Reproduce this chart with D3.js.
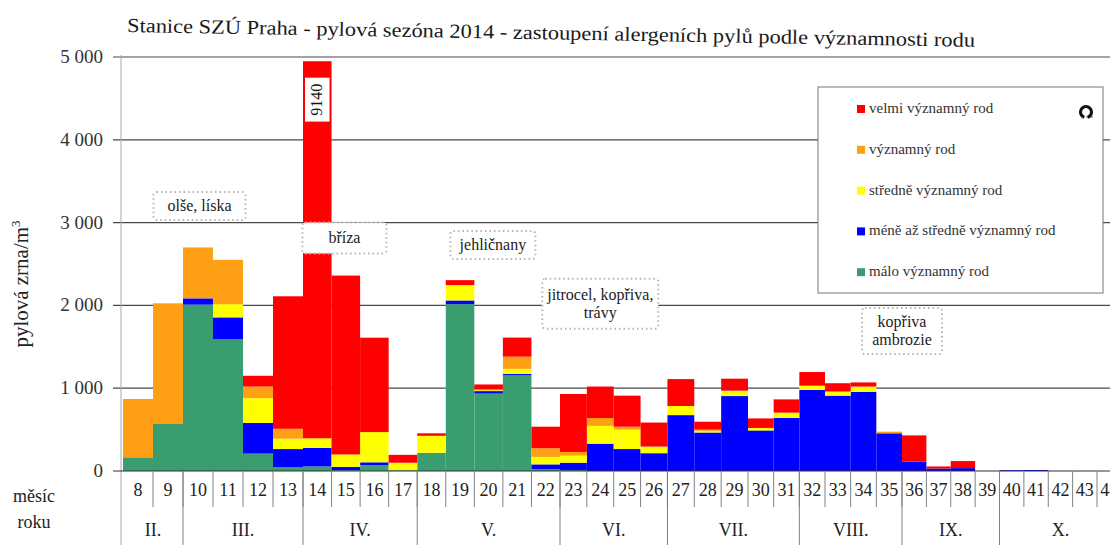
<!DOCTYPE html>
<html>
<head>
<meta charset="utf-8">
<script src="https://cdn.jsdelivr.net/npm/d3@7"></script>
<style>
  body { margin: 0; background: #fff; }
  svg { display: block; }
  svg text { font-family: "Liberation Serif", "DejaVu Serif", serif; }
</style>
</head>
<body>
<svg id="chart" width="1110" height="545" font-family="Liberation Serif, serif"></svg>
<script>
// week numbers 8..44
const weeks = [8, 9, 10, 11, 12, 13, 14, 15, 16, 17, 18, 19, 20, 21, 22, 23, 24, 25, 26,
  27, 28, 29, 30, 31, 32, 33, 34, 35, 36, 37, 38, 39, 40, 41, 42, 43, 44];

// pollen grains / m3 per significance class
const maloVyznamny = [165, 575, 2010, 1590, 210, 45, 55, 10, 70, 10, 220, 2015, 935, 1160, 20, 10, 0, 0, 0,
  0, 0, 0, 0, 0, 0, 0, 0, 0, 0, 0, 0, 0, 0, 0, 0, 0, 0];
const meneAzStredne = [0, 0, 75, 265, 370, 220, 225, 40, 35, 0, 0, 45, 30, 12, 60, 90, 330, 265, 215,
  675, 465, 905, 490, 640, 980, 910, 955, 455, 115, 30, 35, 0, 10, 12, 0, 0, 0];
const stredneVyznamny = [0, 0, 0, 160, 300, 125, 115, 150, 365, 90, 205, 185, 10, 62, 90, 85, 215, 235, 80,
  110, 20, 65, 30, 65, 50, 50, 65, 0, 0, 0, 0, 0, 0, 0, 0, 0, 0];
const vyznamny = [705, 1450, 615, 535, 140, 120, 0, 0, 0, 0, 0, 0, 10, 147, 105, 45, 95, 35, 0,
  0, 15, 0, 0, 0, 0, 0, 0, 20, 0, 0, 0, 0, 0, 0, 0, 0, 0];
const velmiVyznamny = [0, 0, 0, 0, 130, 1600, 8745, 2160, 1140, 95, 30, 60, 60, 230, 260, 700, 380, 375, 290,
  325, 95, 145, 115, 160, 165, 100, 50, 0, 315, 25, 85, 0, 0, 0, 0, 0, 0];

const seriesKeys = ["malo", "mene", "stredne", "vyznamny", "velmi"];
const seriesNames = ["málo významný rod", "méně až středně významný rod", "středně významný rod",
  "významný rod", "velmi významný rod"];
const seriesColors = ["#3a9d70", "#0000ff", "#ffff00", "#ffa014", "#ff0000"];

const yTicks = [0, 1000, 2000, 3000, 4000, 5000];

const monthNames = ["II.", "III.", "IV.", "V.", "VI.", "VII.", "VIII.", "IX.", "X."];
const monthFirstWeek = [8, 10, 14, 18, 23, 27, 32, 36, 40];
const monthLastWeek = [9, 13, 17, 22, 26, 31, 35, 39, 44];

const peakWeek = 14;
const peakLabel = "9140";

const title = "Stanice SZÚ Praha - pylová sezóna 2014 - zastoupení alergeních pylů podle významnosti rodu";

const FONT = "'Liberation Serif', 'DejaVu Serif', serif";
const svg = d3.select("#chart");

// the scanned chart is a bit wider on the left, so the week scale is piecewise
const x = d3.scaleLinear()
  .domain([7.5, 13.5, 22.5, 29.5, 35.5, 43.5])
  .range([123, 303, 560, 748, 902, 1097]);
const y = d3.scaleLinear().domain([0, 5000]).range([471, 57]);
const yCap = 4950;

const fmt = v => d3.format(",")(v).replace(/,/g, " ");

// title
svg.append("text")
  .attr("x", 127).attr("y", 32)
  .attr("transform", "rotate(1 127 32)")
  .attr("textLength", 848)
  .attr("lengthAdjust", "spacingAndGlyphs")
  .style("font-family", FONT)
  .style("font-size", "20px")
  .style("fill", "#1a1a1a")
  .text(title);

// grid
const grid = svg.append("g");
grid.selectAll("line")
  .data(yTicks.filter(v => v > 0))
  .join("line")
  .attr("x1", 113).attr("x2", 1110)
  .attr("y1", d => y(d)).attr("y2", d => y(d))
  .style("stroke", "#4a4a4a")
  .style("stroke-width", 1.2);

svg.append("line")
  .attr("x1", 121).attr("x2", 121)
  .attr("y1", y(5000) - 2).attr("y2", 545)
  .style("stroke", "#aaa");

svg.append("g").selectAll("text")
  .data(yTicks)
  .join("text")
  .attr("x", 103)
  .attr("y", d => y(d) + 6)
  .attr("text-anchor", "end")
  .style("font-family", FONT)
  .style("font-size", "19px")
  .style("fill", "#333")
  .text(fmt);

// axis title
const yl = svg.append("text")
  .attr("transform", "translate(28," + 284 + ") rotate(-90)")
  .attr("text-anchor", "middle")
  .style("font-family", FONT)
  .style("font-size", "21px")
  .style("fill", "#222");
yl.append("tspan").text("pylová zrna/m");
yl.append("tspan").attr("dy", -8).style("font-size", "13px").text("3");

// stacked bars
const rows = weeks.map((w, i) => ({
  week: w,
  malo: maloVyznamny[i],
  mene: meneAzStredne[i],
  stredne: stredneVyznamny[i],
  vyznamny: vyznamny[i],
  velmi: velmiVyznamny[i]
}));
const stacked = d3.stack().keys(seriesKeys)(rows);

svg.append("defs").append("clipPath").attr("id", "plotClip")
  .append("rect")
  .attr("x", 121).attr("y", y(yCap))
  .attr("width", 1000).attr("height", y(0) - y(yCap) + 1);

const bars = svg.append("g").attr("clip-path", "url(#plotClip)");
bars.selectAll("g")
  .data(stacked)
  .join("g")
  .style("fill", (d, i) => seriesColors[i])
  .selectAll("rect")
  .data(d => d.filter(p => p[1] > p[0]))
  .join("rect")
  .attr("x", d => x(d.data.week - 0.5))
  .attr("width", d => x(d.data.week + 0.5) - x(d.data.week - 0.5))
  .attr("y", d => y(d[1]))
  .attr("height", d => y(d[0]) - y(d[1]));

// baseline
svg.append("line")
  .attr("x1", 113).attr("x2", 1110)
  .attr("y1", y(0)).attr("y2", y(0))
  .style("stroke", "#333")
  .style("stroke-width", 1.2);

// week / month table
const table = svg.append("g").style("stroke", "#808080");
table.selectAll("line.wk")
  .data(weeks)
  .join("line")
  .attr("class", "wk")
  .attr("x1", d => x(d + 0.5)).attr("x2", d => x(d + 0.5))
  .attr("y1", y(0)).attr("y2", 507);
table.selectAll("line.mo")
  .data(monthLastWeek)
  .join("line")
  .attr("class", "mo")
  .attr("x1", d => x(d + 0.5)).attr("x2", d => x(d + 0.5))
  .attr("y1", y(0)).attr("y2", 545);

svg.append("g").selectAll("text")
  .data(weeks)
  .join("text")
  .attr("x", d => x(d))
  .attr("y", 496)
  .attr("text-anchor", "middle")
  .style("font-family", FONT)
  .style("font-size", "18px")
  .style("fill", "#222")
  .text(d => d);

svg.append("g").selectAll("text")
  .data(monthNames)
  .join("text")
  .attr("x", (d, i) => (x(monthFirstWeek[i] - 0.5) + x(monthLastWeek[i] + 0.5)) / 2)
  .attr("y", 536)
  .attr("text-anchor", "middle")
  .style("font-family", FONT)
  .style("font-size", "18px")
  .style("fill", "#222")
  .text(d => d);

svg.append("text").attr("x", 34).attr("y", 502).attr("text-anchor", "middle")
  .style("font-family", FONT)
  .style("font-size", "18px").style("fill", "#222").text("měsíc");
svg.append("text").attr("x", 34).attr("y", 528).attr("text-anchor", "middle")
  .style("font-family", FONT)
  .style("font-size", "18px").style("fill", "#222").text("roku");

// peak value label on the clipped bar
svg.append("rect")
  .attr("x", x(peakWeek - 0.5) + 2)
  .attr("width", x(peakWeek + 0.5) - x(peakWeek - 0.5) - 4)
  .attr("y", y(4750)).attr("height", y(4220) - y(4750))
  .style("fill", "#fff");
svg.append("text")
  .attr("transform", "translate(" + (x(peakWeek) + 5) + "," + y(4485) + ") rotate(-90)")
  .attr("text-anchor", "middle")
  .style("font-family", FONT)
  .style("font-size", "16px")
  .style("fill", "#111")
  .text(peakLabel);

// dotted annotation boxes
const notes = [
  { week: 10.05, value: 3200, w: 92, h: 28, lines: ["olše, líska"] },
  { week: 14.95, value: 2815, w: 84, h: 31, lines: ["bříza"] },
  { week: 20.15, value: 2730, w: 85, h: 28, lines: ["jehličnany"] },
  { week: 24.0, value: 2020, w: 116, h: 50, lines: ["jitrocel, kopřiva,", "trávy"] },
  { week: 35.5, value: 1690, w: 80, h: 46, lines: ["kopřiva", "ambrozie"] }
];
const ng = svg.append("g").selectAll("g").data(notes).join("g")
  .attr("transform", d => "translate(" + x(d.week) + "," + y(d.value) + ")");
ng.append("rect")
  .attr("x", d => -d.w / 2).attr("y", d => -d.h / 2)
  .attr("width", d => d.w).attr("height", d => d.h)
  .attr("rx", 3)
  .style("fill", "#fff")
  .style("stroke", "#b5b5b5")
  .style("stroke-width", 2)
  .style("stroke-dasharray", "1.5,3");
ng.each(function(d) {
  const t = d3.select(this).append("text")
    .attr("text-anchor", "middle")
    .style("font-family", FONT)
    .style("font-size", "16px")
    .style("fill", "#222");
  d.lines.forEach((l, i) => {
    t.append("tspan").attr("x", 0)
      .attr("y", (i - (d.lines.length - 1) / 2) * 18 + 5)
      .text(l);
  });
});

// legend
const legend = svg.append("g").attr("transform", "translate(818,87)");
legend.append("rect")
  .attr("width", 285).attr("height", 206)
  .style("fill", "#fff")
  .style("stroke", "#777");
const li = legend.selectAll("g.item")
  .data(seriesKeys.slice().reverse())
  .join("g")
  .attr("class", "item")
  .attr("transform", (d, i) => "translate(39," + (23 + i * 40.8) + ")");
li.append("rect")
  .attr("x", 0).attr("y", -5).attr("width", 8).attr("height", 8)
  .style("fill", d => seriesColors[seriesKeys.indexOf(d)]);
li.append("text")
  .attr("x", 12).attr("y", 3)
  .style("font-family", FONT)
  .style("font-size", "15px")
  .style("fill", "#333")
  .text(d => seriesNames[seriesKeys.indexOf(d)]);

// small institute logo
const logo = legend.append("g").attr("transform", "translate(268,25)");
logo.append("path")
  .attr("d", d3.arc()({ innerRadius: 4, outerRadius: 7, startAngle: Math.PI * 0.1, endAngle: Math.PI * 1.9 }))
  .attr("transform", "rotate(180)")
  .style("fill", "#111");
logo.append("text").attr("x", 0).attr("y", 6)
  .style("font-family", FONT)
  .style("font-size", "5px").style("fill", "#111").text("szú");
</script>
</body>
</html>
